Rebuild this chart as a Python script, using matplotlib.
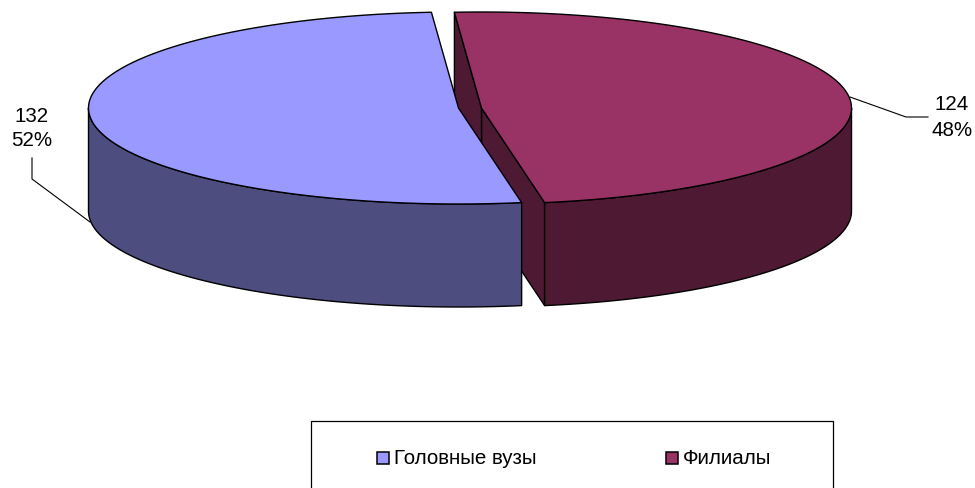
import numpy as np
import matplotlib
matplotlib.use("Agg")
import matplotlib.pyplot as plt
from matplotlib.patches import Polygon, Rectangle

categories = ["Головные вузы", "Филиалы"]
values = [132, 124]
top_colors = ["#9999FF", "#993366"]
side_colors = ["#4D4D80", "#4D1933"]

A, B, DEPTH = 370.0, 96.0, 103.0
START = 94.2
APEX = [(458.5, 108.0), (481.5, 108.0)]
EDGE = "black"
LW = 1.0
FONT = "Liberation Sans"
FS = 14.8

fig = plt.figure(figsize=(9.75, 4.88), dpi=100)
ax = fig.add_axes([0, 0, 1, 1])
ax.set_xlim(0, 975)
ax.set_ylim(488, 0)
ax.axis("off")

total = sum(values)
spans = [v / total * 360.0 for v in values]
a0 = [START, START + spans[0]]
a1 = [START + spans[0], START + spans[0] + spans[1]]


def arc(apex, t0, t1, drop=0.0):
    t = np.radians(np.linspace(t0, t1, 240))
    return np.column_stack([apex[0] + A * np.cos(t), apex[1] - B * np.sin(t) + drop])


def poly(pts, fc, z):
    ax.add_patch(Polygon(pts, closed=True, fc=fc, ec=EDGE, lw=LW, joinstyle="round", zorder=z))


def shift(p):
    return (p[0], p[1] + DEPTH)


# second slice (back piece): two cut faces, then outer wall and top
i = 1
apex = APEX[i]
start_pt = arc(apex, a0[i], a0[i] + 1e-6)[0]
end_pt = arc(apex, a1[i], a1[i] + 1e-6)[0]
poly([apex, start_pt, shift(start_pt), shift(apex)], side_colors[i], 1)
poly([apex, end_pt, shift(end_pt), shift(apex)], side_colors[i], 1)
upper = arc(apex, a0[i], 360.0)
poly(np.vstack([upper, shift(upper[-1]), arc(apex, 360.0, a0[i], DEPTH)]), side_colors[i], 2)
poly(np.vstack([[apex], arc(apex, a0[i], a1[i])]), top_colors[i], 3)

# first slice (front piece): outer wall and top
i = 0
apex = APEX[i]
upper = arc(apex, 180.0, a1[i])
poly(np.vstack([upper, arc(apex, a1[i], 180.0, DEPTH)]), side_colors[i], 4)
poly(np.vstack([[apex], arc(apex, a0[i], a1[i])]), top_colors[i], 5)

# data labels
label_pos = [(32, 116, 141), (952, 105, 131)]
for v, (x, y1, y2) in zip(values, label_pos):
    ax.text(x, y1, f"{v}", ha="center", va="center", fontsize=FS, family=FONT, color="black")
    ax.text(x, y2, f"{round(v / total * 100)}%", ha="center", va="center", fontsize=FS, family=FONT, color="black")

leaders = [([32, 32, 90], [158, 179, 222]), ([850, 906, 928], [97, 117, 117])]
for xs, ys in leaders:
    ax.plot(xs, ys, color="black", lw=0.8, zorder=6, solid_joinstyle="miter")

# legend
ax.add_patch(Rectangle((311, 421), 522, 90, fc="white", ec="black", lw=0.9, zorder=1))
swatch_x = [376.5, 665.5]
text_x = [394, 683]
for name, col, sx, tx in zip(categories, top_colors, swatch_x, text_x):
    ax.add_patch(Rectangle((sx, 451.5), 12, 12, fc=col, ec="black", lw=1.1, zorder=7))
    ax.text(tx, 458, name, ha="left", va="center", fontsize=FS, family=FONT, color="black", zorder=7)

fig.savefig("out.png", dpi=100)
